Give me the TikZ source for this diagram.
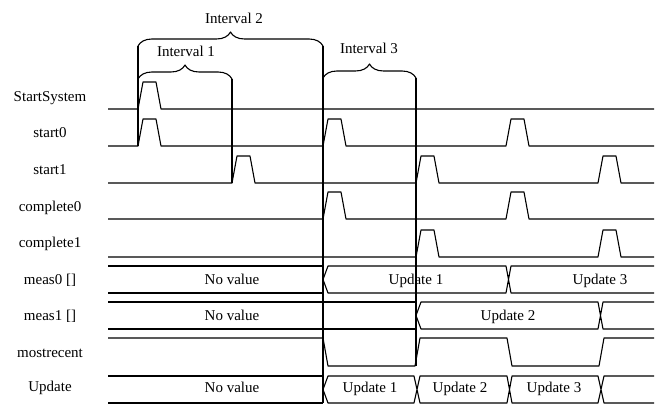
\documentclass[tikz,border=0pt]{standalone}
\usepackage{fontspec}
\setmainfont{Liberation Serif}
\usetikzlibrary{decorations.pathreplacing}
\tikzset{
timing/.style={x=1pt,y=-1pt,line width=1.1pt,line join=round,
font=\fontsize{15}{18}\selectfont},
wave/.style={draw,black},
marker/.style={draw,black,line width=1.1pt},
interval/.style={decorate,decoration={brace,amplitude=#1}},
interval/.default={14pt},
signame/.style={anchor=base,inner sep=0pt},
busval/.style={anchor=base,inner sep=0pt},
}
% one row of pulses: #1 = baseline, #2 = rising edges
\newcommand{\pulserow}[2]{%
\draw[wave] (108,#1) \foreach \t in {#2} {-- (\t,#1) -- ++(5,-27) -- ++(13,0) -- ++(5,27)} -- (654,#1);}

\begin{document}
\begin{tikzpicture}[timing]
\useasboundingbox (0,0) rectangle (657,406);

% intervals
\coordinate (i1a) at (138,79);
\coordinate (i1b) at (232,79);
\coordinate (i2a) at (138,46);
\coordinate (i2b) at (323,46);
\coordinate (i3a) at (323,78);
\coordinate (i3b) at (416,78);
\draw[interval] (i2a) -- (i2b);
\draw[interval] (i1a) -- (i1b);
\draw[interval] (i3a) -- (i3b);
\node[signame] (int2) at (234,24) {Interval 2};
\node[signame] (int1) at (186,57) {Interval 1};
\node[signame] (int3) at (369,54) {Interval 3};
\draw[marker] (i2a) -- (138,146);
\draw[marker] (i1b) -- (232,183);
\draw[marker] (i2b) -- (323,403);
\draw[marker] (i3b) -- (416,366);

% signal names
\node[signame] (startsystem) at (50,102) {StartSystem};
\node[signame] (start0) at (50,138) {start0};
\node[signame] (start1) at (50,175) {start1};
\node[signame] (complete0) at (50,212) {complete0};
\node[signame] (complete1) at (50,248) {complete1};
\node[signame] (meas0) at (50,285) {meas0 []};
\node[signame] (meas1) at (50,321) {meas1 []};
\node[signame] (mostrecent) at (50,358) {mostrecent};
\node[signame] (update) at (50,392) {Update};

% pulses
\pulserow{109}{138}
\pulserow{146}{138,323,506}
\pulserow{183}{232,416,598}
\pulserow{219}{323,506}
\pulserow{257}{416,598}

% meas0
\draw[wave] (108,266) -- (323,266) (108,293) -- (323,293);
\draw[wave] (654,266) -- (511,266) -- (506,293) -- (328,293) -- (323,279.5) -- (328,266)
  -- (506,266) -- (511,293) -- (654,293);
\node[busval] (m0a) at (232,285) {No value};
\node[busval] (m0b) at (416,285) {Update 1};
\node[busval] (m0c) at (600,285) {Update 3};

% meas1
\draw[wave] (108,302) -- (416,302) (108,329) -- (416,329);
\draw[wave] (654,302) -- (603,302) -- (598,329) -- (421,329) -- (416,315.5) -- (421,302)
  -- (598,302) -- (603,329) -- (654,329);
\node[busval] (m1a) at (232,321) {No value};
\node[busval] (m1b) at (508,321) {Update 2};

% mostrecent
\draw[wave] (108,338) -- (323,338) -- (328,366) -- (415,366) -- (420,338) -- (507,338)
  -- (512,366) -- (599,366) -- (604,338) -- (654,338);

% Update
\draw[wave] (108,376) -- (323,376) (108,403) -- (323,403);
\draw[wave] (654,376) -- (604,376) -- (598,403) -- (512,403) -- (507,376) -- (420,376)
  -- (414,403) -- (328,403) -- (323,389.5) -- (328,376) -- (414,376) -- (420,403)
  -- (507,403) -- (512,376) -- (598,376) -- (604,403) -- (654,403);
\node[busval] (ua) at (232,393) {No value};
\node[busval] (ub) at (370,393) {Update 1};
\node[busval] (uc) at (460,393) {Update 2};
\node[busval] (ud) at (554,393) {Update 3};
\end{tikzpicture}
\end{document}
